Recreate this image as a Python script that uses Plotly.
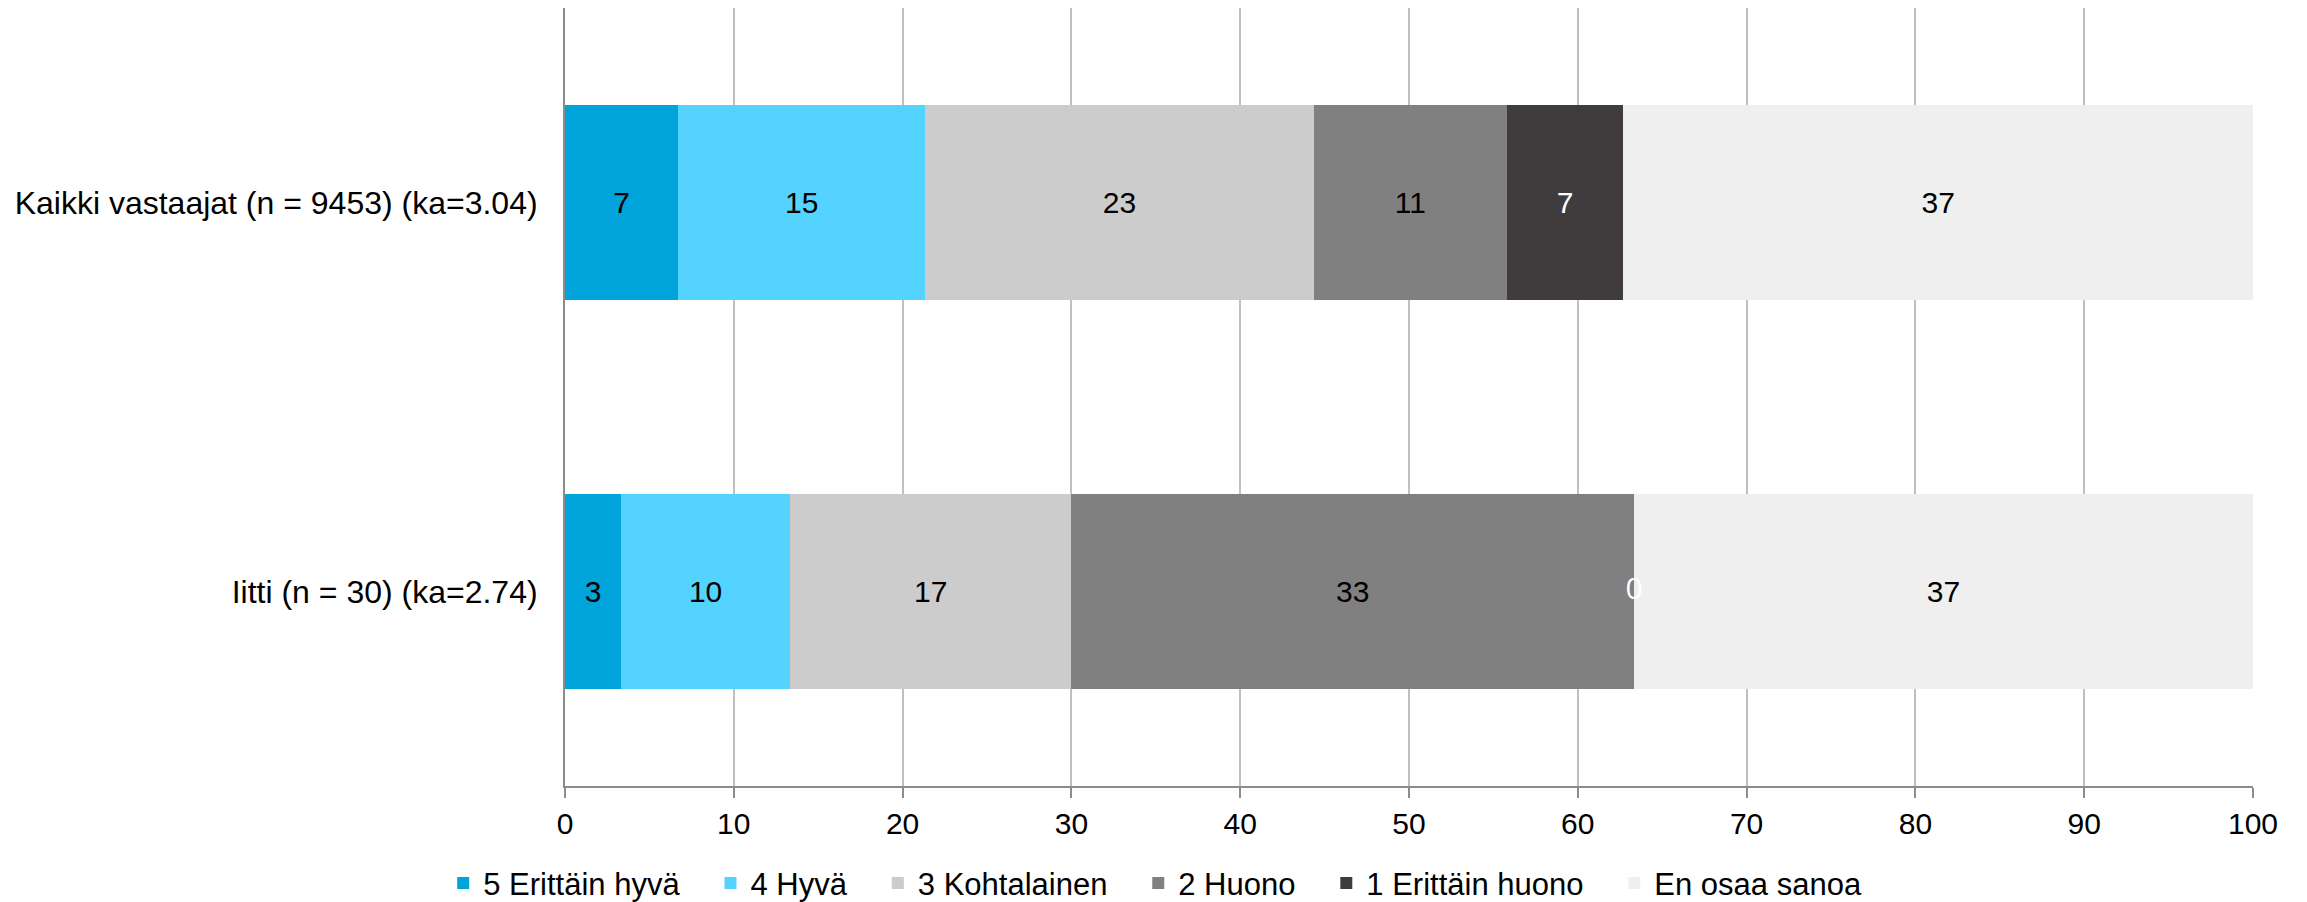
import plotly.graph_objects as go

categories = ["Kaikki vastaajat (n = 9453) (ka=3.04)", "Iitti (n = 30) (ka=2.74)"]
series_names = ["5 Erittäin hyvä", "4 Hyvä", "3 Kohtalainen", "2 Huono", "1 Erittäin huono", "En osaa sanoa"]
kaikki_values = [6.7, 14.65, 23.0, 11.45, 6.9, 37.3]
iitti_values = [3.33, 10.0, 16.67, 33.33, 0.0, 36.67]
colors = ["#00A3DA", "#55D3FF", "#CCCCCC", "#808080", "#403B3C", "#EFEFEF"]
text_colors = ["#000000", "#000000", "#000000", "#000000", "#FFFFFF", "#000000"]
x_ticks = [0, 10, 20, 30, 40, 50, 60, 70, 80, 90, 100]

FONT = "Liberation Sans, Arial, sans-serif"
NBSP = "\u00a0"

fig = go.Figure()
for i, name in enumerate(series_names):
    vals = [kaikki_values[i], iitti_values[i]]
    legend_name = name + (NBSP * 3 if i < len(series_names) - 1 else "")
    fig.add_trace(go.Bar(
        y=categories, x=vals, orientation="h", name=legend_name,
        marker=dict(color=colors[i], line=dict(width=0)),
        text=[f"{v:.0f}" for v in vals],
        textposition="inside", insidetextanchor="middle", textangle=0,
        textfont=dict(family=FONT, size=30, color=text_colors[i]),
        hovertemplate="%{y}: %{x}<extra>" + name + "</extra>",
    ))

# zero-width segment labels (drawn at the segment's position)
for ci, vals in enumerate([kaikki_values, iitti_values]):
    cum = 0.0
    for i, v in enumerate(vals):
        if v == 0:
            fig.add_trace(go.Scatter(
                x=[cum], y=[categories[ci]], mode="text", text=[f"{v:.0f}"],
                textfont=dict(family="Open Sans, DejaVu Sans, sans-serif", size=30, color=text_colors[i]),
                showlegend=False, hoverinfo="skip", cliponaxis=False,
            ))
        cum += v

# page body has an 8px default margin, so the figure is sized to fill the rest of the window
fig.update_layout(
    barmode="stack",
    bargap=0.5,
    width=2299, height=894,
    margin=dict(l=557, r=54, t=0, b=116, autoexpand=False),
    plot_bgcolor="#FFFFFF", paper_bgcolor="#FFFFFF",
    font=dict(family=FONT, size=30, color="#000000"),
    showlegend=True,
    legend=dict(
        orientation="h", xref="container", yref="container",
        x=0.499, xanchor="center", y=0.051, yanchor="top",
        font=dict(family=FONT, size=31, color="#000000"),
        traceorder="normal", bgcolor="rgba(0,0,0,0)",
    ),
    xaxis=dict(
        range=[0, 100], tickvals=x_ticks, ticktext=[str(t) for t in x_ticks],
        showgrid=True, gridcolor="#C0C0C0", gridwidth=2,
        showline=True, linecolor="#8C8C8C", linewidth=2,
        ticks="outside", ticklen=10, tickwidth=2, tickcolor="#8C8C8C",
        tickfont=dict(family=FONT, size=30, color="#000000"),
        zeroline=False, fixedrange=True, automargin=False,
    ),
    yaxis=dict(
        categoryorder="array", categoryarray=categories, autorange="reversed",
        showgrid=False, showline=True, linecolor="#8C8C8C", linewidth=2,
        ticks="", tickfont=dict(family=FONT, size=32, color="#000000"),
        ticklabelstandoff=19, zeroline=False, fixedrange=True, automargin=False,
    ),
)

fig.write_html("out.html")
